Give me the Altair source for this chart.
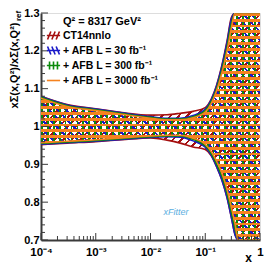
import altair as alt
import pandas as pd

# ---------------- data ----------------
x_vals = [1e-4, 3e-4, 1e-3, 3e-3, 1e-2, 2e-2, 3.5e-2, 6e-2, 0.1, 0.13, 0.16, 0.2,
          0.25, 0.3, 0.35, 0.4, 0.5, 0.7, 1.0]

ct14_hi = [1.080, 1.058, 1.047, 1.037, 1.030, 1.031, 1.035, 1.040, 1.050, 1.074, 1.108,
           1.160, 1.226, 1.288, 1.300, 1.300, 1.300, 1.300, 1.300]
ct14_lo = [0.952, 0.956, 0.960, 0.965, 0.970, 0.964, 0.956, 0.946, 0.939, 0.922, 0.895,
           0.860, 0.812, 0.760, 0.714, 0.700, 0.700, 0.700, 0.700]

afb30_hi = [1.079, 1.057, 1.046, 1.036, 1.026, 1.022, 1.022, 1.029, 1.046, 1.072, 1.106,
            1.157, 1.222, 1.284, 1.300, 1.300, 1.300, 1.300, 1.300]
afb30_lo = [0.953, 0.957, 0.961, 0.966, 0.971, 0.973, 0.972, 0.962, 0.945, 0.923, 0.895,
            0.860, 0.812, 0.760, 0.714, 0.700, 0.700, 0.700, 0.700]

afb300_hi = [1.077, 1.055, 1.044, 1.034, 1.024, 1.020, 1.020, 1.026, 1.042, 1.067, 1.099,
             1.148, 1.210, 1.272, 1.300, 1.300, 1.300, 1.300, 1.300]
afb300_lo = [0.955, 0.959, 0.963, 0.968, 0.973, 0.975, 0.975, 0.966, 0.949, 0.928, 0.902,
             0.869, 0.823, 0.773, 0.729, 0.700, 0.700, 0.700, 0.700]

afb3000_hi = [1.075, 1.053, 1.042, 1.032, 1.022, 1.018, 1.018, 1.023, 1.038, 1.062, 1.093,
              1.140, 1.200, 1.260, 1.300, 1.300, 1.300, 1.300, 1.300]
afb3000_lo = [0.957, 0.961, 0.965, 0.970, 0.975, 0.977, 0.977, 0.969, 0.953, 0.933, 0.909,
              0.878, 0.834, 0.786, 0.743, 0.700, 0.700, 0.700, 0.700]

series_names = ["CT14nnlo", "+ AFB L = 30 fb⁻¹", "+ AFB L = 300 fb⁻¹", "+ AFB L = 3000 fb⁻¹"]
series_colors = ["#a50f0f", "#1a1ac8", "#0a8a0a", "#f5821f"]
series_shapes = [
    "M-1,0L1,0M-0.9,0.6L-0.4,-0.6M-0.25,0.6L0.25,-0.6M0.4,0.6L0.9,-0.6",
    "M-1,0L1,0M-0.9,-0.6L-0.4,0.6M-0.25,-0.6L0.25,0.6M0.4,-0.6L0.9,0.6",
    "M-1,0L1,0M-0.6,-0.6L-0.6,0.6M0,-0.6L0,0.6M0.6,-0.6L0.6,0.6",
    "M-1,0L1,0",
]

x_major = [1e-4, 1e-3, 1e-2, 1e-1, 1.0]
x_major_labels = ["10⁻⁴", "10⁻³", "10⁻²", "10⁻¹", "1"]
x_minor_mult = [2, 3, 4, 5, 6, 7, 8, 9]
y_major = [0.7, 0.8, 0.9, 1.0, 1.1, 1.2, 1.3]
y_minor = [0.72, 0.74, 0.76, 0.78, 0.82, 0.84, 0.86, 0.88, 0.92, 0.94, 0.96, 0.98,
           1.02, 1.04, 1.06, 1.08, 1.12, 1.14, 1.16, 1.18, 1.22, 1.24, 1.26, 1.28]

W, H = 219, 227
FONT = "Liberation Sans"

band_lo = [ct14_lo, afb30_lo, afb300_lo, afb3000_lo]
band_hi = [ct14_hi, afb30_hi, afb300_hi, afb3000_hi]

xscale = alt.Scale(type="log", domain=[1e-4, 1], nice=False)
yscale = alt.Scale(domain=[0.7, 1.3], nice=False, zero=False)
cscale = alt.Scale(domain=series_names, range=series_colors)
sscale = alt.Scale(domain=series_names, range=series_shapes)


def stripes(color, n, frac, x1, y1, x2, y2):
    clear = "rgba(255,255,255,0)"
    stops = []
    for i in range(n):
        a = i / n
        b = (i + frac) / n
        stops += [alt.GradientStop(offset=a, color=clear),
                  alt.GradientStop(offset=a, color=color),
                  alt.GradientStop(offset=b, color=color),
                  alt.GradientStop(offset=b, color=clear)]
    return alt.LinearGradient(gradient="linear", stops=stops, x1=x1, y1=y1, x2=x2, y2=y2)


fills = [
    stripes(series_colors[0], 52, 0.3, 0, 0, 1, 1),
    stripes(series_colors[1], 52, 0.3, 1, 0, 0, 1),
    stripes(series_colors[2], 37, 0.3, 0, 0, 1, 0),
    stripes(series_colors[3], 39, 0.48, 0, 0, 0, 1),
]

label_expr = " : ".join(
    f"datum.value < {v * 3} ? '{l}'" for v, l in zip(x_major[:-1], x_major_labels[:-1])
) + f" : '{x_major_labels[-1]}'"

x_axis = alt.Axis(values=x_major, labelExpr=label_expr,
                  ticks=False, grid=False, labelFont=FONT, labelFontWeight="bold",
                  labelFontSize=11.5, labelColor="#000", labelPadding=6,
                  domainColor="#3a3a3a", domainWidth=2,
                  title="x", titleFont=FONT, titleFontWeight="bold", titleFontSize=12,
                  titleX=207, titleY=17, titleAlign="center", titleBaseline="middle",
                  titleColor="#000", labelFlush=False)
y_axis = alt.Axis(values=y_major, format=".1~f", ticks=False, grid=False,
                  labelFont=FONT, labelFontWeight="bold", labelFontSize=11,
                  labelColor="#000", labelPadding=2,
                  domainColor="#3a3a3a", domainWidth=2,
                  title="xΣ(x,Q²)/xΣ(x,Q²)", titleFont=FONT, titleFontWeight="bold",
                  titleFontSize=11, titleAngle=270, titleX=-27, titleY=9,
                  titleAlign="right", titleBaseline="middle", titleColor="#000",
                  labelFlush=False)

legend = alt.Legend(
    title="Q² = 8317 GeV²", orient="none", legendX=5, legendY=3,
    titleFont=FONT, titleFontSize=11, titleFontWeight="bold", titleColor="#000",
    titleAnchor="middle", titlePadding=1,
    labelFont=FONT, labelFontSize=10.5, labelFontWeight="bold", labelColor="#000",
    labelOffset=2, rowPadding=0, symbolStrokeWidth=1.6, symbolSize=175,
    symbolFillColor="transparent")


def X(field):
    return alt.X(field, scale=xscale, axis=x_axis)


def Y(field):
    return alt.Y(field, scale=yscale, axis=y_axis)


def C():
    return alt.Color("series:N", scale=cscale, legend=legend)


layers = []
for i, name in enumerate(series_names):
    df = pd.DataFrame({"x": x_vals, "lo": band_lo[i], "hi": band_hi[i]})
    layers.append(
        alt.Chart(df).mark_area(fill=fills[i], opacity=1, fillOpacity=1, clip=True,
                                interpolate="monotone")
        .encode(x=X("x:Q"), y=Y("lo:Q"), y2="hi:Q")
    )

rows = []
for i, name in enumerate(series_names):
    for j, xv in enumerate(x_vals):
        rows.append({"x": xv, "series": name, "edge": "lo", "val": band_lo[i][j]})
        rows.append({"x": xv, "series": name, "edge": "hi", "val": band_hi[i][j]})
df_lines = pd.DataFrame(rows)

for i, name in enumerate(series_names):
    layers.append(
        alt.Chart(df_lines[df_lines.series == name]).mark_line(
            strokeWidth=1.6, clip=True, interpolate="monotone")
        .encode(x=X("x:Q"), y=Y("val:Q"), color=C(), detail="edge:N")
    )

# ticks pointing inward
x_minor = [m * d for d in x_major[:-1] for m in x_minor_mult]
layers += [
    alt.Chart(pd.DataFrame({"v": x_major})).mark_rule(color="#3a3a3a", strokeWidth=1)
    .encode(x=X("v:Q"), y=alt.value(H), y2=alt.value(H - 7)),
    alt.Chart(pd.DataFrame({"v": x_minor})).mark_rule(color="#3a3a3a", strokeWidth=1)
    .encode(x=X("v:Q"), y=alt.value(H), y2=alt.value(H - 4)),
    alt.Chart(pd.DataFrame({"v": y_major})).mark_rule(color="#3a3a3a", strokeWidth=1)
    .encode(y=Y("v:Q"), x=alt.value(0), x2=alt.value(7)),
    alt.Chart(pd.DataFrame({"v": y_minor})).mark_rule(color="#3a3a3a", strokeWidth=1)
    .encode(y=Y("v:Q"), x=alt.value(0), x2=alt.value(4)),
]

# legend carrier (points lie outside the plotted range and are clipped)
df_leg = pd.DataFrame({"series": series_names, "x": [1e-6] * 4, "y": [1.0] * 4})
layers.append(
    alt.Chart(df_leg).mark_point(filled=False, clip=True, strokeWidth=1.6,
                                 size=175, opacity=1).encode(
        x=X("x:Q"), y=Y("y:Q"), color=C(),
        shape=alt.Shape("series:N", scale=sscale, legend=legend))
)

# subscript of the y title and the xFitter mark
layers.append(
    alt.Chart(pd.DataFrame({"t": ["ref"]})).mark_text(
        angle=270, align="left", baseline="middle", font=FONT, fontSize=8,
        fontWeight="bold", color="#000")
    .encode(text="t:N", x=alt.value(-22), y=alt.value(8))
)
layers.append(
    alt.Chart(pd.DataFrame({"t": ["xFitter"]})).mark_text(
        align="center", baseline="middle", font=FONT, fontSize=9, fontStyle="italic",
        color="#5aaee0")
    .encode(text="t:N", x=alt.value(135), y=alt.value(199))
)

chart = alt.layer(*layers).properties(
    width=W, height=H,
    autosize=alt.AutoSizeParams(type="none"),
    padding={"left": 33, "top": 5, "right": 6, "bottom": 24},
).configure_view(stroke="#888888", strokeWidth=1).configure(background="white")

chart.save("out.html", embed_options={"renderer": "svg", "actions": False})
